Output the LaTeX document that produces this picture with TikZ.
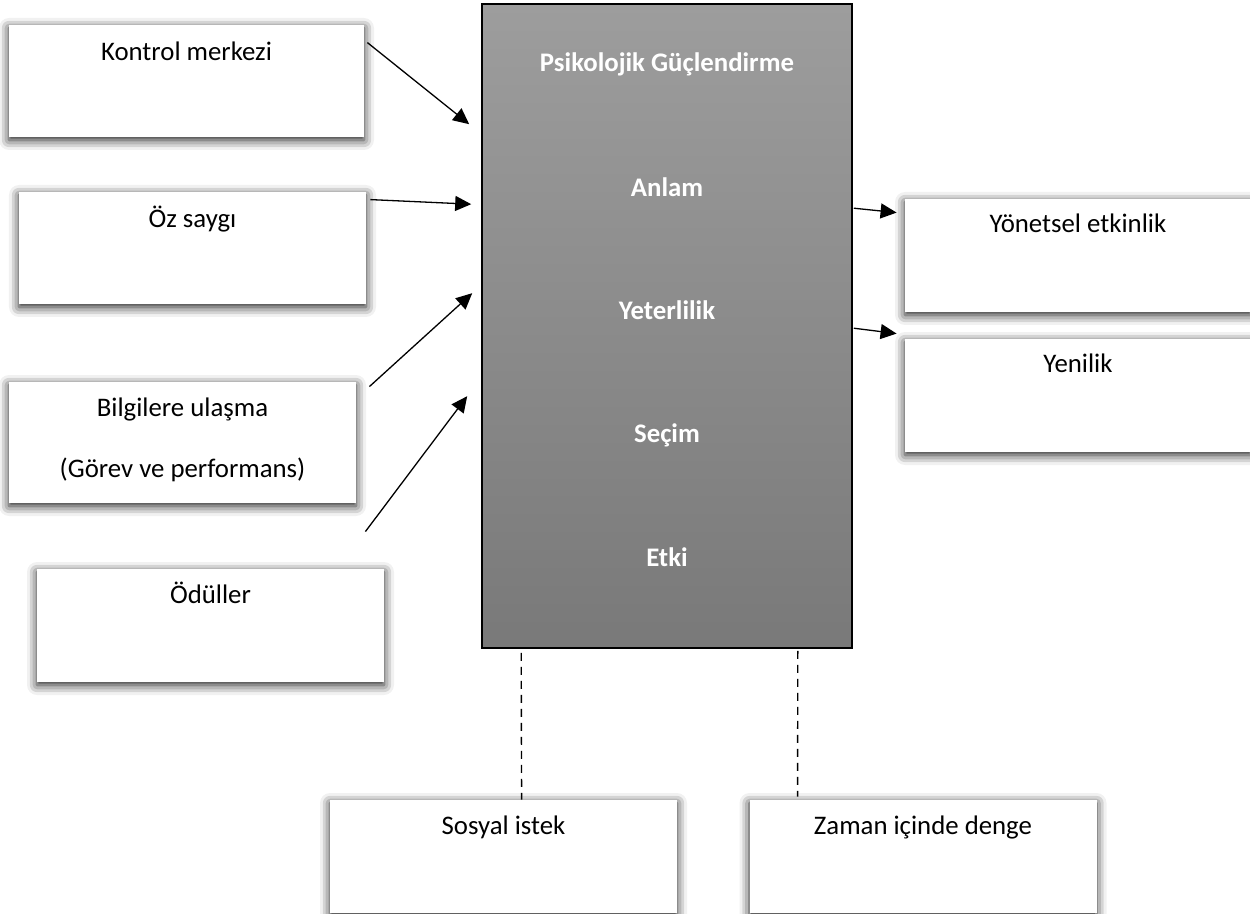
\documentclass[tikz,border=0pt]{standalone}
\usepackage{fontspec}
\setmainfont{Carlito}
\usepackage{tikz}
\usetikzlibrary{arrows.meta,calc,shadows.blur}
\definecolor{gtop}{RGB}{157,157,157}
\definecolor{gbot}{RGB}{121,121,121}

\begin{document}
\begin{tikzpicture}[x=0.5pt,y=-0.5pt,
		every node/.append style={font=\fontsize{13.4}{16}\selectfont},
		kutu/.style={fill=white,inner sep=0pt,align=flush center,
			blur shadow={shadow xshift=0pt,shadow yshift=-1.5pt,shadow blur radius=5pt,shadow opacity=90}},
		baslik/.style={text=white,font=\fontsize{13.4}{16}\selectfont\bfseries,anchor=base},
		ok/.style={line width=0.65pt,-{Triangle[length=8pt,width=7.5pt]}},
		kesik/.style={line width=0.7pt,dash pattern=on 4pt off 3pt}]
	\useasboundingbox (0,0) rectangle (1250,914);
	\node[draw=black,line width=0.8pt,top color=gtop,bottom color=gbot,minimum width=185pt,minimum height=322pt,inner sep=0pt] (guc) at (667,326) {};
	\node[baslik] (psiko) at (667,72) {Psikolojik Güçlendirme};
	\node[baslik] (anlam) at (667,197) {Anlam};
	\node[baslik] (yeter) at (667,320) {Yeterlilik};
	\node[baslik] (secim) at (667,443) {Seçim};
	\node[baslik] (etki) at (667,567) {Etki};
	\node[kutu,text width=177.5pt,text height=18pt,text depth=38pt] (kontrol) at (186.5,81) {Kontrol merkezi};
	\node[kutu,text width=173.5pt,text height=18pt,text depth=38pt] (oz) at (192.5,248) {Öz saygı};
	\node[kutu,text width=173.5pt,text height=17.5pt,text depth=43pt] (bilgi) at (182.5,442.5) {Bilgilere ulaşma\\[14.5pt](Görev ve performans)};
	\node[kutu,text width=173.5pt,text height=17.5pt,text depth=39pt] (odul) at (210.5,625.5) {Ödüller};
	\node[kutu,text width=173pt,text height=17pt,text depth=39.5pt] (yon) at (1078,255.5) {Yönetsel etkinlik};
	\node[kutu,text width=173pt,text height=17pt,text depth=39.5pt] (yen) at (1078,395.5) {Yenilik};
	\node[kutu,text width=173.5pt,text height=17.5pt,text depth=39pt] (sosyal) at (503.5,856.5) {Sosyal istek};
	\node[kutu,text width=173.5pt,text height=17.5pt,text depth=39pt] (zaman) at (923,856.5) {Zaman içinde denge};
	\draw[ok] ($(kontrol.north east)+(3,18)$) -- ($(guc.north west)+(-12,121)$);
	\draw[ok] ($(oz.north east)+(4,8)$) -- ($(guc.north west)+(-10,201)$);
	\draw[ok] ($(bilgi.north east)+(13,5)$) -- ($(guc.north west)+(-9,290)$);
	\draw[ok] ($(odul.north east)+(-19,-37)$) -- ($(guc.north west)+(-14,393)$);
	\draw[ok] ($(guc.north east)+(1,205)$) -- ($(yon.north west)+(-8,14)$);
	\draw[ok] ($(guc.north east)+(1,325)$) -- ($(yen.north west)+(-8,-5)$);
	\draw[kesik] ($(guc.south west)+(40,4)$) -- ($(sosyal.north west)+(192,0)$);
	\draw[kesik] ($(guc.south east)+(-55,2)$) -- ($(zaman.north west)+(48.5,-3)$);
\end{tikzpicture}
\end{document}
